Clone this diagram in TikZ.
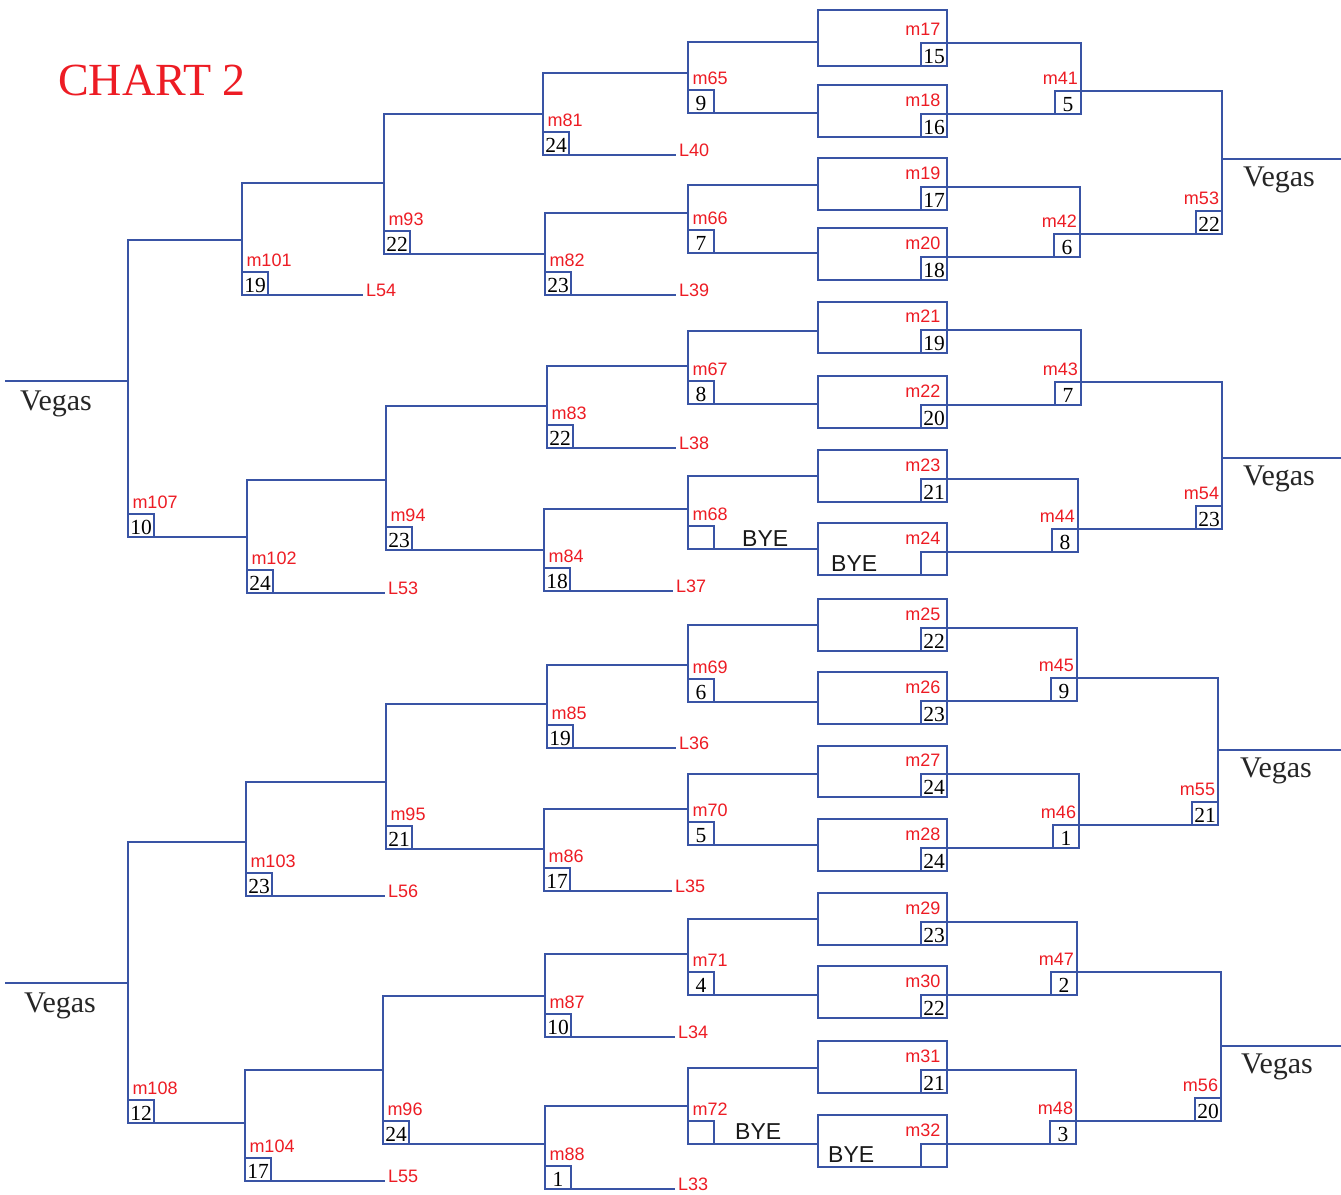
\documentclass[tikz,border=0pt]{standalone}
\usepackage{fontspec}
\setmainfont{Liberation Serif}
\newfontfamily\labsans{Liberation Sans}
\definecolor{lblue}{RGB}{57,84,165}
\definecolor{lred}{RGB}{237,28,36}
\tikzset{
 ln/.style={draw=lblue, line width=2.9pt, line cap=rect, line join=miter},
 numbox/.style={draw=lblue, line width=2.9pt, fill=white, minimum width=26pt, minimum height=23pt, inner sep=0pt, outer sep=0pt, text height=17pt, text depth=0pt, font=\fontsize{21.5}{21.5}\selectfont, text=black},
 rectbox/.style={draw=lblue, line width=2.9pt, minimum width=129pt, inner sep=0pt, outer sep=0pt},
 mlab/.style={text=lred, font=\labsans\fontsize{18}{18}\selectfont, inner sep=0pt, outer sep=0pt},
 llab/.style={mlab, inner xsep=4pt},
 vegas/.style={font=\fontsize{30}{30}\selectfont, text=black!85, inner sep=0pt},
 byetxt/.style={font=\labsans\fontsize{23}{23}\selectfont, text=black!90, inner sep=0pt},
 charttitle/.style={font=\fontsize{46}{46}\selectfont, text=lred, inner sep=0pt},
}
% first-round match: name, ytop, ybot, number
\newcommand\FR[4]{%
 \node[rectbox, minimum height={#3-#2}, anchor=north west] (#1r) at (818,#2) {};
 \node[numbox, anchor=south east] (#1) at (947,#3) {#4};
 \node[mlab, anchor=base east] (#1l) at ([xshift=-6.5pt, yshift=7.5pt]#1.north east) {#1};
}
% right-side bracket: name, x, child1, child2, number
\newcommand\RB[5]{%
 \coordinate (#1x) at (#2,0);
 \node[numbox, anchor=south east] (#1) at (#4.north east -| #1x) {#5};
 \draw[ln] (#3.north east) -- (#3.north east -| #1x) -- (#1.south east);
 \draw[ln] (#4.north east) -- (#1.south west);
 \node[mlab, anchor=base east] (#1l) at ([xshift=-3pt, yshift=6.5pt]#1.north east) {#1};
}
% left-side bracket: name, x, ytop, ybot, number
\newcommand\LB[5]{%
 \coordinate (#1t) at (#2,#3);
 \node[numbox, anchor=south west] (#1) at (#2,#4) {#5};
 \node[mlab, anchor=base west] (#1l) at ([xshift=4.5pt, yshift=5.5pt]#1.north west) {#1};
 \draw[ln] (#1t) -- (#1.north west);
}
% loser label: name, x, y
\newcommand\LL[3]{%
 \node[llab, anchor=base west] (#1) at (#2,#3+1) {#1};
}
\begin{document}
\begin{tikzpicture}[x=1pt,y=-1pt]
\useasboundingbox[fill=white] (0,0) rectangle (1341,1194);

\node[charttitle, anchor=base west] (title) at (58,95) {CHART 2};

% ---------- first round ----------
\FR{m17}{10}{66}{15}
\FR{m18}{85}{137}{16}
\FR{m19}{158}{210}{17}
\FR{m20}{228}{280}{18}
\FR{m21}{302}{353}{19}
\FR{m22}{376}{428}{20}
\FR{m23}{450}{502}{21}
\FR{m24}{523}{575}{}
\FR{m25}{599}{651}{22}
\FR{m26}{672}{724}{23}
\FR{m27}{746}{797}{24}
\FR{m28}{819}{871}{24}
\FR{m29}{893}{945}{23}
\FR{m30}{966}{1018}{22}
\FR{m31}{1041}{1093}{21}
\FR{m32}{1115}{1167}{}

\node[byetxt, anchor=base west] (bye24) at ([xshift=13pt, yshift=4pt]m24r.south west) {BYE};
\node[byetxt, anchor=base west] (bye32) at ([xshift=10pt, yshift=5pt]m32r.south west) {BYE};

% ---------- right side ----------
\RB{m41}{1081}{m17}{m18}{5}
\RB{m42}{1080}{m19}{m20}{6}
\RB{m43}{1081}{m21}{m22}{7}
\RB{m44}{1078}{m23}{m24}{8}
\RB{m45}{1077}{m25}{m26}{9}
\RB{m46}{1079}{m27}{m28}{1}
\RB{m47}{1077}{m29}{m30}{2}
\RB{m48}{1076}{m31}{m32}{3}
\RB{m53}{1222}{m41}{m42}{22}
\RB{m54}{1222}{m43}{m44}{23}
\RB{m55}{1218}{m45}{m46}{21}
\RB{m56}{1221}{m47}{m48}{20}

\coordinate (vr1) at (1341,159);
\coordinate (vr2) at (1341,458);
\coordinate (vr3) at (1341,750);
\coordinate (vr4) at (1341,1046);
\draw[ln] (vr1 -| m53.east) -- (vr1);
\draw[ln] (vr2 -| m54.east) -- (vr2);
\draw[ln] (vr3 -| m55.east) -- (vr3);
\draw[ln] (vr4 -| m56.east) -- (vr4);
\node[vegas, anchor=base west] (vgr1) at ([xshift=21pt, yshift=-27pt]vr1 -| m53.east) {Vegas};
\node[vegas, anchor=base west] (vgr2) at ([xshift=21pt, yshift=-27pt]vr2 -| m54.east) {Vegas};
\node[vegas, anchor=base west] (vgr3) at ([xshift=22pt, yshift=-27pt]vr3 -| m55.east) {Vegas};
\node[vegas, anchor=base west] (vgr4) at ([xshift=20pt, yshift=-27pt]vr4 -| m56.east) {Vegas};

% ---------- left side ----------
\LB{m65}{688}{42}{113}{9}
\LB{m66}{688}{185}{253}{7}
\LB{m67}{688}{331}{404}{8}
\LB{m68}{688}{476}{549}{}
\LB{m69}{688}{625}{702}{6}
\LB{m70}{688}{774}{845}{5}
\LB{m71}{688}{919}{995}{4}
\LB{m72}{688}{1068}{1144}{}
\LB{m81}{543}{73}{155}{24}
\LB{m82}{545}{213}{295}{23}
\LB{m83}{547}{366}{448}{22}
\LB{m84}{544}{509}{591}{18}
\LB{m85}{547}{665}{748}{19}
\LB{m86}{544}{809}{891}{17}
\LB{m87}{545}{954}{1037}{10}
\LB{m88}{545}{1106}{1189}{1}
\LB{m93}{384}{114}{254}{22}
\LB{m94}{386}{406}{550}{23}
\LB{m95}{386}{704}{849}{21}
\LB{m96}{383}{996}{1144}{24}
\LB{m101}{242}{183}{295}{19}
\LB{m102}{247}{480}{593}{24}
\LB{m103}{246}{782}{896}{23}
\LB{m104}{245}{1070}{1181}{17}
\LB{m107}{128}{240}{537}{10}
\LB{m108}{128}{842}{1123}{12}

\node[byetxt, anchor=base west] (bye68) at ([xshift=28pt, yshift=3pt]m68.south east) {BYE};
\node[byetxt, anchor=base west] (bye72) at ([xshift=21pt, yshift=5pt]m72.south east) {BYE};

\LL{L40}{675}{155}
\LL{L39}{675}{295}
\LL{L38}{675}{448}
\LL{L37}{672}{591}
\LL{L36}{675}{748}
\LL{L35}{671}{891}
\LL{L34}{674}{1037}
\LL{L33}{674}{1189}
\LL{L54}{362}{295}
\LL{L53}{384}{593}
\LL{L56}{384}{896}
\LL{L55}{384}{1181}

% connectors: bracket top -> child, bracket bottom -> child
\foreach \p/\a/\b in {m65/m17r/m18r, m66/m19r/m20r, m67/m21r/m22r, m68/m23r/m24r,
                      m69/m25r/m26r, m70/m27r/m28r, m71/m29r/m30r, m72/m31r/m32r}{
  \draw[ln] (\p t) -- (\p t -| \a.west);
  \draw[ln] (\p.south east) -- (\p.south east -| \b.west);
}
\foreach \p/\a/\b in {m81/m65t/L40, m82/m66t/L39, m83/m67t/L38, m84/m68t/L37,
                      m85/m69t/L36, m86/m70t/L35, m87/m71t/L34, m88/m72t/L33,
                      m101/m93t/L54, m102/m94t/L53, m103/m95t/L56, m104/m96t/L55}{
  \draw[ln] (\p t) -- (\p t -| \a);
  \draw[ln] (\p.south east) -- (\p.south east -| \b.west);
}
\foreach \p/\a/\b in {m93/m81t/m82t, m94/m83t/m84t, m95/m85t/m86t, m96/m87t/m88t,
                      m107/m101t/m102t, m108/m103t/m104t}{
  \draw[ln] (\p t) -- (\p t -| \a);
  \draw[ln] (\p.south east) -- (\p.south east -| \b);
}

\coordinate (vl1) at (6,381);
\coordinate (vl2) at (6,983);
\draw[ln] (vl1) -- (vl1 -| m107t);
\draw[ln] (vl2) -- (vl2 -| m108t);
\node[vegas, anchor=base west] (vgl1) at (20,410) {Vegas};
\node[vegas, anchor=base west] (vgl2) at (24,1012) {Vegas};
\end{tikzpicture}
\end{document}
